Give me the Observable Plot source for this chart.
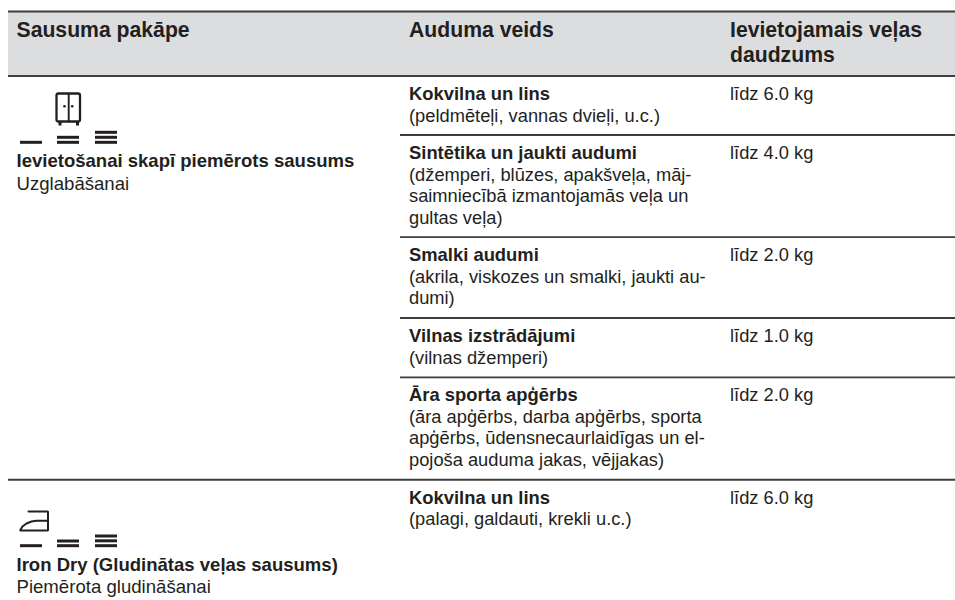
<!DOCTYPE html>
<html>
<head>
<meta charset="utf-8">
<script src="https://cdn.jsdelivr.net/npm/d3@7"></script>
<script src="https://cdn.jsdelivr.net/npm/@observablehq/plot@0.6"></script>
<style>
html,body{margin:0;padding:0;background:#fff}
svg{display:block}
</style>
</head>
<body>
<div id="chart"></div>
<script>
// Table content
const headerLabels = ["Sausuma pakāpe", "Auduma veids", "Ievietojamais veļas", "daudzums"];
const dryLevelBold = ["Ievietošanai skapī piemērots sausums", "Iron Dry (Gludinātas veļas sausums)"];
const dryLevelNote = ["Uzglabāšanai", "Piemērota gludināšanai"];
const fabricNames = ["Kokvilna un lins", "Sintētika un jaukti audumi", "Smalki audumi", "Vilnas izstrādājumi", "Āra sporta apģērbs", "Kokvilna un lins"];
const fabricNotes = [
  ["(peldmēteļi, vannas dvieļi, u.c.)"],
  ["(džemperi, blūzes, apakšveļa, māj-", "saimniecībā izmantojamās veļa un", "gultas veļa)"],
  ["(akrila, viskozes un smalki, jaukti au-", "dumi)"],
  ["(vilnas džemperi)"],
  ["(āra apģērbs, darba apģērbs, sporta", "apģērbs, ūdensnecaurlaidīgas un el-", "pojoša auduma jakas, vējjakas)"],
  ["(palagi, galdauti, krekli u.c.)"]
];
const loadKg = ["6.0", "4.0", "2.0", "1.0", "2.0", "6.0"];

// Layout in the table's own coordinate space
const colX = {level: 16, fabric: 408.5, load: 729.5};
const rowNameY = [94, 152.7, 255, 336, 395, 497.5];
const noteGap = 21.5;
const headerY = [30, 30, 30, 54.5];
const headerX = [colX.level, colX.fabric, colX.load, colX.load];
const levelBoldY = [161, 565];
const levelNoteY = [184, 587];
const fullRules = [11, 75.5, 479.3];
const rowRules = [134.5, 236.7, 317.5, 376.8];
const levelBars = [
  [[20, 142.3]],
  [[57, 137.3], [57, 142.3]],
  [[95, 132.3], [95, 137.3], [95, 142.3]],
  [[20, 545.7]],
  [[57, 541], [57, 545.7]],
  [[95, 536], [95, 540.8], [95, 545.7]]
].flat();
const ironOutline = [[28, 511], [47.5, 511], [47.5, 530], [19.5, 530], [22, 526], [26, 523], [31, 521], [36, 520.3], [47.5, 520.3]];

const headerRows = headerLabels.map((t, i) => ({t, x: headerX[i], y: headerY[i]}));
const fabricBold = fabricNames.map((t, i) => ({t, x: colX.fabric, y: rowNameY[i]}));
const levelBold = dryLevelBold.map((t, i) => ({t, x: colX.level, y: levelBoldY[i]}));
const levelPlain = dryLevelNote.map((t, i) => ({t, x: colX.level, y: levelNoteY[i]}));
const plainRows = fabricNotes.flatMap((lines, i) => lines.map((t, j) => ({t, x: colX.fabric, y: rowNameY[i] + noteGap * (j + 1)})))
  .concat(loadKg.map((v, i) => ({t: `līdz ${v} kg`, x: colX.load, y: rowNameY[i]})));

const ink = "#231f20";
const font = {fontFamily: "'Liberation Sans', Arial, sans-serif", textAnchor: "start", lineAnchor: "middle"};

const chart = Plot.plot({
  width: 955,
  height: 600,
  margin: 0,
  style: {background: "#fff"},
  x: {domain: [0, 955], range: [0, 955], axis: null},
  y: {domain: [0, 600], range: [0, 600], axis: null},
  marks: [
    Plot.rect([{}], {x1: () => 8, x2: () => 955, y1: () => fullRules[0], y2: () => fullRules[1], fill: "#dcddde"}),
    Plot.ruleY(fullRules, {x1: 8, x2: 955, stroke: "#3f3d3e", strokeWidth: 2}),
    Plot.ruleY(rowRules, {x1: 400, x2: 955, stroke: "#3f3d3e", strokeWidth: 1.8}),
    Plot.text(headerRows, {...font, x: "x", y: "y", text: "t", fontSize: 21.2, fontWeight: 700, fill: ink}),
    Plot.text(fabricBold, {...font, x: "x", y: "y", text: "t", fontSize: 18.4, fontWeight: 700, fill: ink}),
    Plot.text(levelBold, {...font, x: "x", y: "y", text: "t", fontSize: 18.55, fontWeight: 700, fill: ink}),
    Plot.text(plainRows, {...font, x: "x", y: "y", text: "t", fontSize: 18.3, fill: ink}),
    Plot.text(levelPlain, {...font, x: "x", y: "y", text: "t", fontSize: 18.6, fill: ink}),
    // strength bars
    Plot.rect(levelBars, {x1: d => d[0], x2: d => d[0] + 22, y1: d => d[1] - 1.5, y2: d => d[1] + 1.5, fill: ink}),
    // cupboard icon
    Plot.rect([{}], {x1: () => 56.5, x2: () => 80, y1: () => 93.5, y2: () => 121.5, r: 2, fill: "none", stroke: ink, strokeWidth: 2.3}),
    Plot.ruleX([68.2], {y1: 93.5, y2: 121.5, stroke: ink, strokeWidth: 1.9}),
    Plot.ruleX([59.5, 77], {y1: 121.5, y2: 125.5, stroke: ink, strokeWidth: 3}),
    Plot.dot([[64, 105.7], [71.7, 105.7]], {x: "0", y: "1", r: 1.3, fill: ink}),
    // iron icon
    Plot.line(ironOutline, {x: "0", y: "1", stroke: ink, strokeWidth: 2, curve: "linear", strokeLinejoin: "miter"})
  ]
});
document.getElementById("chart").append(chart);
</script>
</body>
</html>
